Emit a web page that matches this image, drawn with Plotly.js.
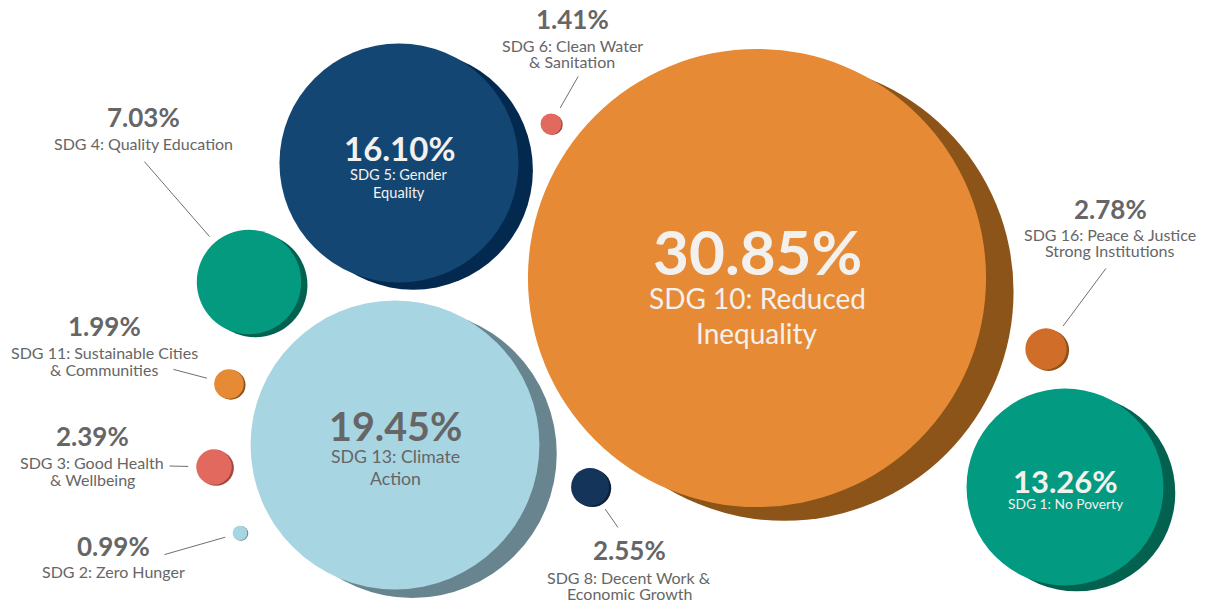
<!DOCTYPE html>
<html>
<head>
<meta charset="utf-8">
<script src="https://cdn.plot.ly/plotly-3.0.1.min.js"></script>
<style>html,body{margin:0;padding:0;background:#fff;}#chart{width:1206px;height:600px;}</style>
</head>
<body>
<div id="chart"></div>
<script>
// ---- data ----
const categories = [
  "SDG 10: Reduced Inequality",
  "SDG 13: Climate Action",
  "SDG 5: Gender Equality",
  "SDG 1: No Poverty",
  "SDG 4: Quality Education",
  "SDG 16: Peace & Justice Strong Institutions",
  "SDG 8: Decent Work & Economic Growth",
  "SDG 3: Good Health & Wellbeing",
  "SDG 11: Sustainable Cities & Communities",
  "SDG 6: Clean Water & Sanitation",
  "SDG 2: Zero Hunger"
];
const shares = [30.85, 19.45, 16.10, 13.26, 7.03, 2.78, 2.55, 2.39, 1.99, 1.41, 0.99];
const displayLabels = [
  "SDG 10: Reduced<br>Inequality",
  "SDG 13: Climate<br>Action",
  "SDG 5: Gender<br>Equality",
  "SDG 1: No Poverty",
  "SDG 4: Quality Education",
  "SDG 16: Peace & Justice<br>Strong Institutions",
  "SDG 8: Decent Work &<br>Economic Growth",
  "SDG 3: Good Health<br>& Wellbeing",
  "SDG 11: Sustainable Cities<br>& Communities",
  "SDG 6: Clean Water<br>& Sanitation",
  "SDG 2: Zero Hunger"
];

// ---- layout (packing positions, styles) ----
const bubbleX = [757, 395, 399, 1065, 249, 1046, 590, 214, 229, 551, 240];
const bubbleY = [278, 445, 163, 487, 282, 349, 487, 467, 384, 124, 533];
const fillColors = ["#E68A35","#A8D5E2","#144673","#029A80","#039A80","#D06D28","#143459","#E2695E","#E68A35","#E2695E","#A8D5E2"];
const shadowColors = ["#8C5418","#68858F","#03294F","#036150","#036150","#8C5418","#0B203A","#9E4840","#8C5418","#9E4840","#68858F"];
// text block positions: [x, percentY, firstNameLineY, lineGap]
const textPos = [
  [757, 251, 298, 35], [395, 425, 456, 22], [399, 148, 174, 18], [1065, 481, 503, 17],
  [143, 117, 143, 17], [1110, 209, 234, 16.5], [629, 550, 577, 16.5], [92, 436, 462, 17],
  [104, 326, 352, 17], [572, 19, 45, 16.5], [113, 546, 571, 17]
];
const pctSize = [62, 39.5, 33, 31, 26, 26, 26, 26, 26, 26, 26];
const nameSize = [28, 17.7, 14.6, 13.8, 16, 16, 16, 16, 16, 16, 16];
const textColor = ["#F3F1EE", "#666666", "#F3F1EE", "#F3F1EE", "#666666", "#666666", "#666666", "#666666", "#666666", "#666666", "#666666"];
// leader line tails (label side), null for none
const leaderTail = [null, null, null, null, [143,160], [1107,267], [619,529], [168,466], [172,369], [579,75], [163,555]];

const pxPerPct = 14.85; // diameter in px per percentage point
const FONT = "Lato, 'Open Sans', sans-serif";

const diam = shares.map(v => v * pxPerPct);
const shadowX = bubbleX.map((x, i) => x + 0.12 * diam[i] / 2);
const shadowY = bubbleY.map((y, i) => y + 0.06 * diam[i] / 2);

const traces = [
  { type: "scatter", mode: "markers", x: shadowX, y: shadowY, hoverinfo: "skip",
    marker: { size: diam, sizemode: "diameter", color: shadowColors, line: { width: 0 }, opacity: 1 } },
  { type: "scatter", mode: "markers", x: bubbleX, y: bubbleY, text: categories, hoverinfo: "text",
    marker: { size: diam, sizemode: "diameter", color: fillColors, line: { width: 0 }, opacity: 1 } }
];

const annotations = [];
shares.forEach((v, i) => {
  const [tx, py, ny, gap] = textPos[i];
  annotations.push({ xref: "x", yref: "y", x: tx, y: py, text: "<b>" + v.toFixed(2) + "%</b>",
    showarrow: false, xanchor: "center", yanchor: "middle",
    font: { family: FONT, size: pctSize[i], color: textColor[i] } });
  displayLabels[i].split("<br>").forEach((line, k) => {
    annotations.push({ xref: "x", yref: "y", x: tx, y: ny + k * gap, text: line,
      showarrow: false, xanchor: "center", yanchor: "middle", align: "center",
      font: { family: FONT, size: nameSize[i], color: textColor[i] } });
  });
  if (leaderTail[i]) {
    annotations.push({ xref: "x", yref: "y", x: bubbleX[i], y: bubbleY[i],
      axref: "x", ayref: "y", ax: leaderTail[i][0], ay: leaderTail[i][1],
      text: "", showarrow: true, arrowhead: 0, arrowwidth: 1, arrowcolor: "#707070",
      standoff: diam[i] / 2 + 8 });
  }
});

const layout = {
  width: 1206, height: 600,
  margin: { l: 0, r: 0, t: 0, b: 0 },
  paper_bgcolor: "#ffffff", plot_bgcolor: "#ffffff",
  showlegend: false,
  xaxis: { range: [0, 1206], visible: false, fixedrange: true },
  yaxis: { range: [600, 0], visible: false, fixedrange: true },
  annotations: annotations,
  hovermode: false
};

Plotly.newPlot("chart", traces, layout, { staticPlot: true, displayModeBar: false });
</script>
</body>
</html>
